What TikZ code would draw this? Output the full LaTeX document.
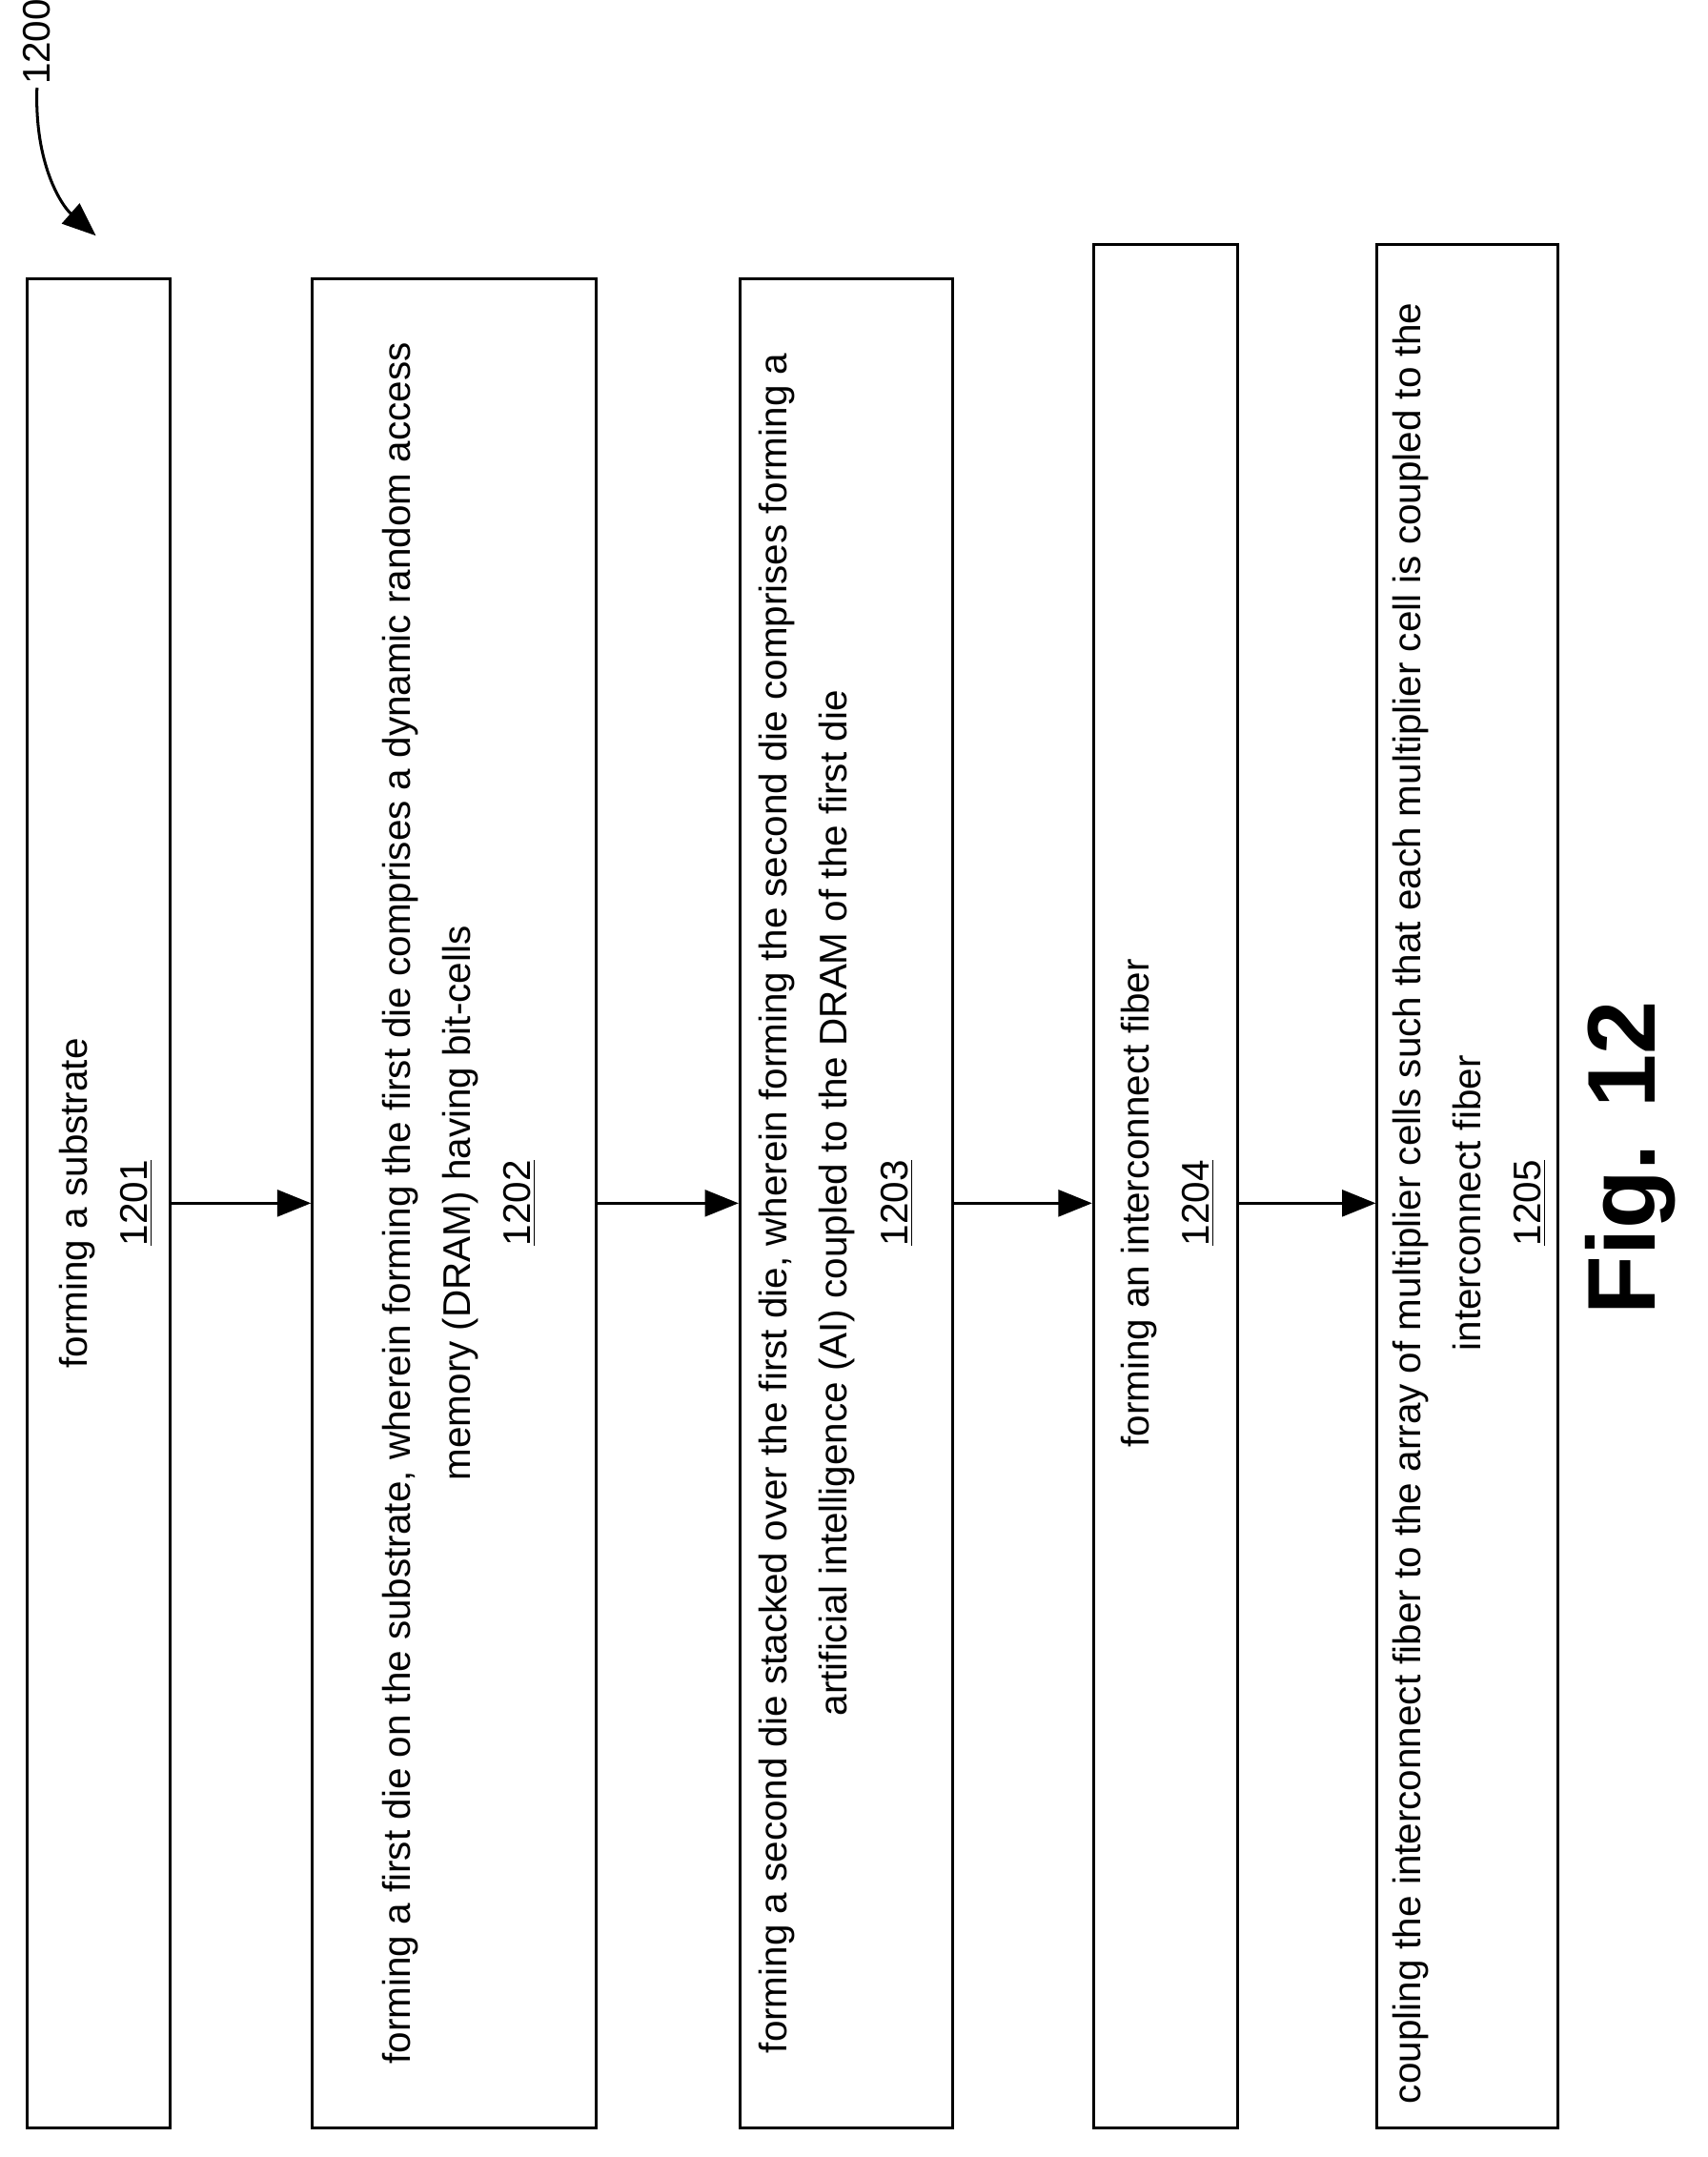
\documentclass[tikz,border=0pt]{standalone}
\usepackage{fontspec}
\setmainfont{Liberation Sans}
\usetikzlibrary{arrows.meta}
\begin{document}
\begin{tikzpicture}[x=0.02cm,y=-0.02cm,
  stepbox/.style={draw,line width=1.2pt,rotate=90,inner sep=0pt},
  lbl/.style={rotate=90,align=center,font=\fontsize{16}{25}\selectfont},
  arr/.style={-{Triangle[length=14pt,width=11pt]},line width=1.2pt}]
\useasboundingbox (0,0) rectangle (1246,1574);
\node[stepbox,minimum width=27cm,minimum height=2.08cm] (b1) at (72,878) {};
\node[stepbox,minimum width=27cm,minimum height=4.14cm] (b2) at (331.5,878) {};
\node[stepbox,minimum width=27cm,minimum height=3.1cm] (b3) at (617.5,878) {};
\node[stepbox,minimum width=27.5cm,minimum height=2.1cm] (b4) at (850.5,865.5) {};
\node[stepbox,minimum width=27.5cm,minimum height=2.64cm] (b5) at (1071,865.5) {};
\node[lbl] (t1) at (77,878) {forming a substrate\\\underline{1201}};
\node[lbl] (t2) at (335,878) {forming a first die on the substrate, wherein forming the first die comprises a dynamic random access\\memory (DRAM) having bit-cells\\\underline{1202}};
\node[lbl] (t3) at (610,878) {forming a second die stacked over the first die, wherein forming the second die comprises forming a\\artificial intelligence (AI) coupled to the DRAM of the first die\\\underline{1203}};
\node[lbl] (t4) at (852,878) {forming an interconnect fiber\\\underline{1204}};
\node[lbl] (t5) at (1072,878) {coupling the interconnect fiber to the array of multiplier cells such that each multiplier cell is coupled to the\\interconnect fiber\\\underline{1205}};
\draw[arr] (b1.south |- 0,878) -- (b2.north |- 0,878);
\draw[arr] (b2.south |- 0,878) -- (b3.north |- 0,878);
\draw[arr] (b3.south |- 0,878) -- (b4.north |- 0,878);
\draw[arr] (b4.south |- 0,878) -- (b5.north |- 0,878);
\node[rotate=90,font=\fontsize{40}{40}\selectfont\bfseries] (fig) at (1190,845) {Fig. 12};
\node[rotate=90,font=\fontsize{16}{16}\selectfont,anchor=west,inner sep=1pt] (n1200) at (27,64) {1200};
\coordinate (tip) at (70,172);
\draw[arr] (n1200.west) .. controls (25,120) and (45,150) .. (tip);
\end{tikzpicture}
\end{document}
